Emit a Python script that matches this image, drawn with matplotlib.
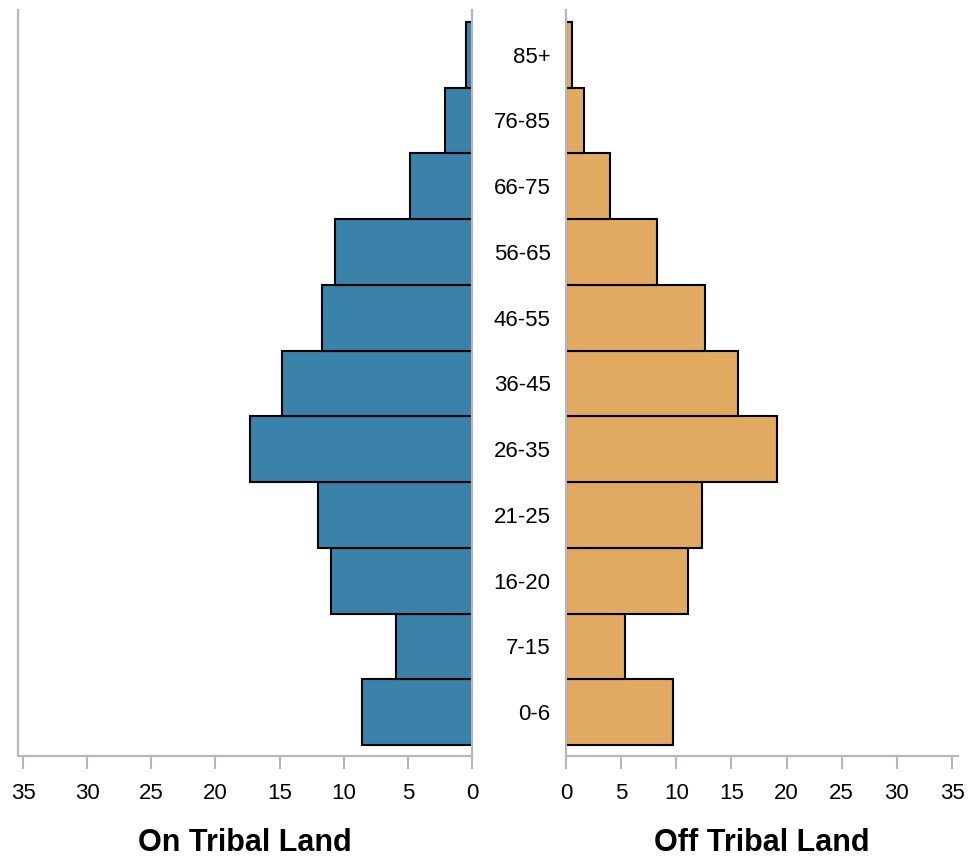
import matplotlib
matplotlib.use("Agg")
import matplotlib.pyplot as plt

plt.rcParams['font.family'] = ['Liberation Sans', 'DejaVu Sans']

age_groups = ["0-6", "7-15", "16-20", "21-25", "26-35", "36-45", "46-55", "56-65", "66-75", "76-85", "85+"]
on_tribal = [8.6, 5.9, 11.0, 12.0, 17.3, 14.8, 11.7, 10.7, 4.8, 2.1, 0.5]
off_tribal = [9.7, 5.35, 11.1, 12.3, 19.1, 15.6, 12.6, 8.25, 4.0, 1.6, 0.5]
ticks = [0, 5, 10, 15, 20, 25, 30, 35]

blue = "#3a82aa"
orange = "#e2a963"
spine_col = "#b4b8bc"

fig = plt.figure(figsize=(9.68, 8.61), dpi=100)
axL = fig.add_axes([18/968, 1-756/861, 454/968, 746/861])
axR = fig.add_axes([566/968, 1-756/861, 392/968, 746/861])

y = list(range(len(age_groups)))
axL.barh(y, on_tribal, height=1.0, color=blue, edgecolor="black", linewidth=1.5)
axR.barh(y, off_tribal, height=1.0, color=orange, edgecolor="black", linewidth=1.5)

ylo, yhi = -0.5 - 0.167, 10.5 + 0.18
for ax in (axL, axR):
    ax.set_ylim(ylo, yhi)
    ax.set_xticks(ticks)
    ax.set_xticklabels([str(t) for t in ticks])
    ax.tick_params(axis='x', length=9.5, width=1.5, color=spine_col, pad=10, labelsize=16)
    for s in ax.spines.values():
        s.set_color(spine_col)
        s.set_linewidth(1.6)
    ax.spines['top'].set_visible(False)

axL.set_xlim(35.39, 0)
axR.set_xlim(0, 35.54)
axR.spines['right'].set_visible(False)

axL.set_yticks([])
axR.set_yticks(y)
axR.set_yticklabels(age_groups)
axR.tick_params(axis='y', length=0, pad=11, labelsize=16)

axL.set_xlabel("On Tribal Land", fontsize=22, fontweight='bold', labelpad=17)
axR.set_xlabel("Off Tribal Land", fontsize=22, fontweight='bold', labelpad=17)

fig.savefig("out.png", dpi=100)
